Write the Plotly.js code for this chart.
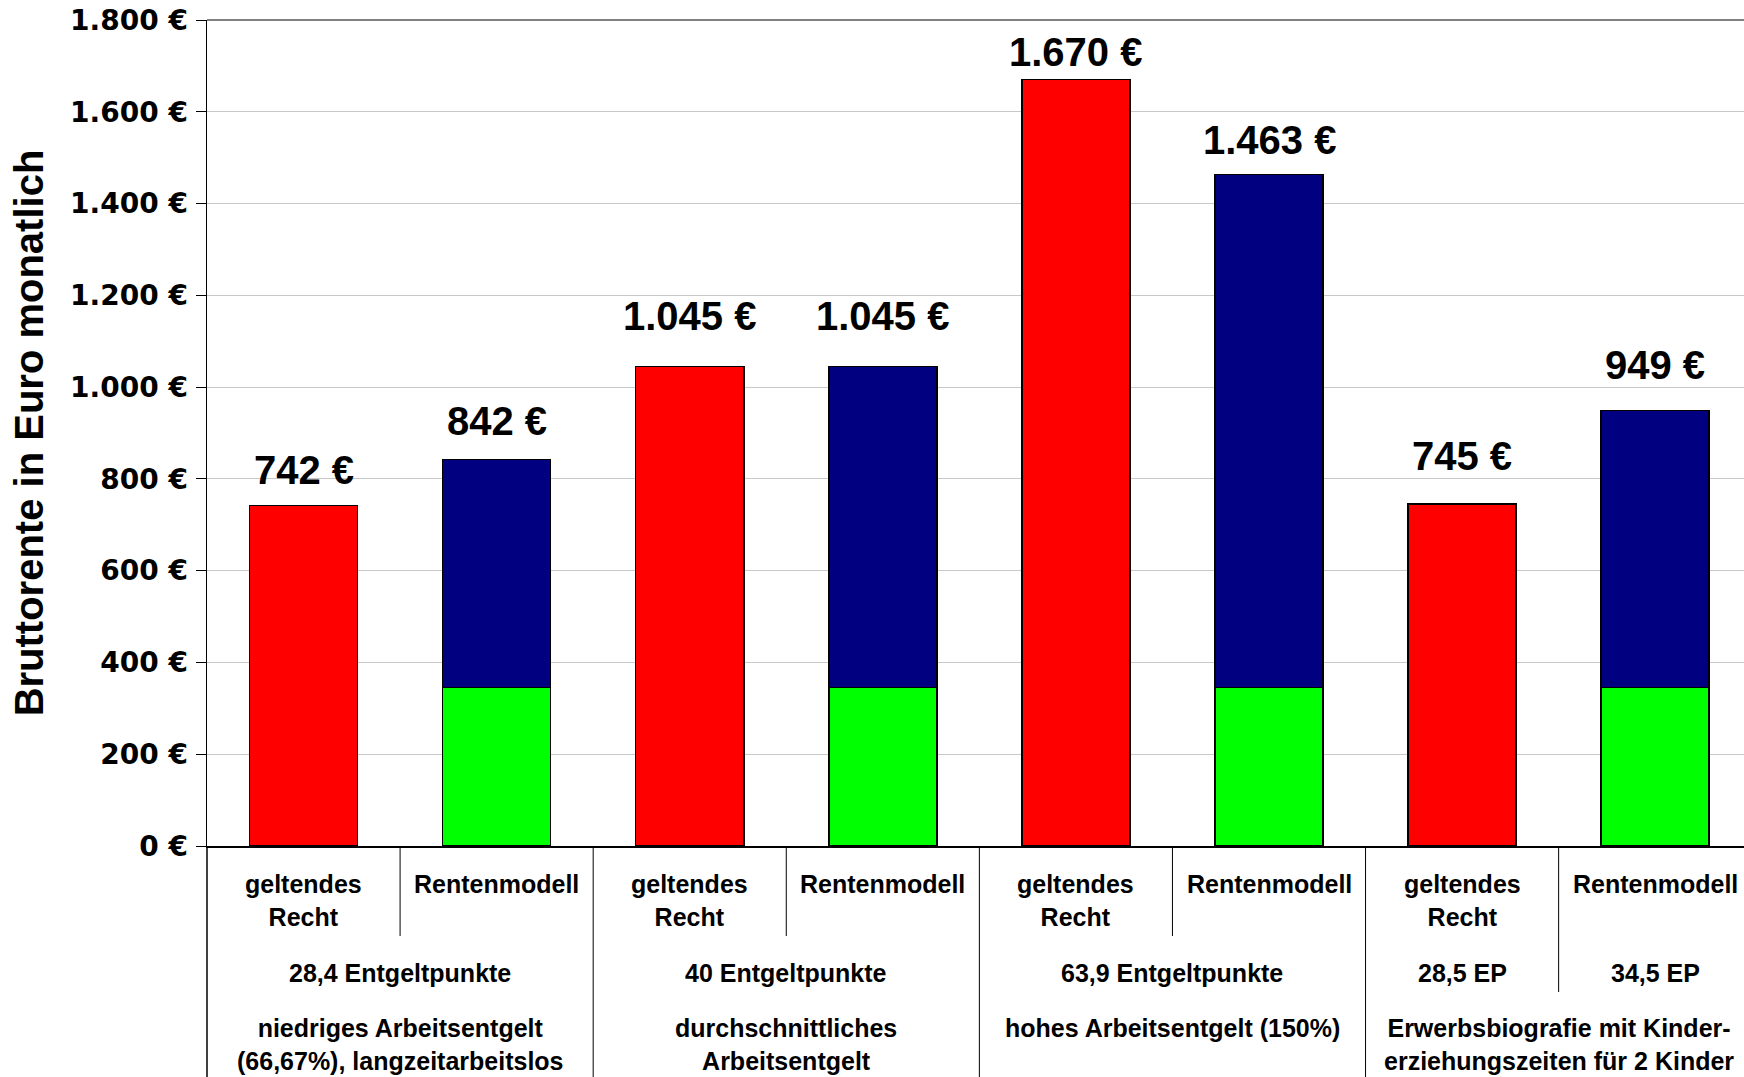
<!DOCTYPE html>
<html>
<head>
<meta charset="utf-8">
<script src="https://cdn.plot.ly/plotly-3.0.1.min.js"></script>
<style>html,body{margin:0;padding:0;background:#fff;}#chart{width:1744px;height:1077px;}</style>
</head>
<body>
<div id="chart"></div>
<script>
// ---- data ----
const subLabels = ['geltendes<br>Recht','Rentenmodell','geltendes<br>Recht','Rentenmodell','geltendes<br>Recht','Rentenmodell','geltendes<br>Recht','Rentenmodell'];
const epLabels = ['28,4 Entgeltpunkte','28,4 Entgeltpunkte','40 Entgeltpunkte','40 Entgeltpunkte','63,9 Entgeltpunkte','63,9 Entgeltpunkte','28,5 EP','34,5 EP'];
const groupLabels = ['niedriges Arbeitsentgelt<br>(66,67%), langzeitarbeitslos','durchschnittliches<br>Arbeitsentgelt','hohes Arbeitsentgelt (150%)','Erwerbsbiografie mit Kinder-<br>erziehungszeiten für 2 Kinder'];
const geltendesRecht = [742, null, 1045, null, 1670, null, 745, null];
const sockel = [null, 345, null, 345, null, 345, null, 345];
const aufbau = [null, 497, null, 700, null, 1118, null, 604];
const yAxisTitle = 'Bruttorente in Euro monatlich';

// ---- layout / style ----
const W = 1744, H = 1077, plotTop = 20, plotBottom = 846;
const labelGapPx = [22, 25, 36, 36, 14, 21, 34, 32]; // distance of value label above its bar (px)
const pp = p => (plotBottom - p) / (plotBottom - plotTop); // pixel -> paper y
const idx = subLabels.map((_, i) => i);
const sans = "'Liberation Sans', Arial, sans-serif";
function fmt(v){ return String(Math.round(v)).replace(/\B(?=(\d{3})+(?!\d))/g, '.'); }

const lineStyle = {color:'#000', width:1.5};
const traces = [
  {type:'bar', x:idx, y:geltendesRecht, width:0.56, marker:{color:'#ff0000', line:lineStyle}, hoverinfo:'y', name:'geltendes Recht'},
  {type:'bar', x:idx, y:sockel, width:0.56, marker:{color:'#00ff00', line:lineStyle}, hoverinfo:'y', name:'Sockel'},
  {type:'bar', x:idx, y:aufbau, width:0.56, marker:{color:'#000080', line:lineStyle}, hoverinfo:'y', name:'Aufbau'}
];

const annotations = [];
const shapes = [];
// value labels
idx.forEach(i => {
  const total = (geltendesRecht[i] || 0) + (sockel[i] || 0) + (aufbau[i] || 0);
  annotations.push({x:i, y:total, xref:'x', yref:'y', yanchor:'bottom', yshift:labelGapPx[i] - 10, showarrow:false,
    text: fmt(total) + ' €', font:{family:sans, size:40, color:'#000', weight:'bold'}});
});
// row 1 labels
const lblFont = {family:sans, size:25, color:'#000', weight:'bold'};
idx.forEach(i => {
  annotations.push({x:i, y:pp(868), xref:'x', yref:'paper', yanchor:'top', showarrow:false, text:subLabels[i], font:lblFont});
});
// row 2 labels (merge equal neighbours)
let s = 0;
for (let i = 1; i <= epLabels.length; i++) {
  if (i === epLabels.length || epLabels[i] !== epLabels[s]) {
    annotations.push({x:(s + i - 1) / 2, y:pp(973), xref:'x', yref:'paper', yanchor:'middle', showarrow:false, text:epLabels[s], font:lblFont});
    s = i;
  }
}
// row 3 labels
groupLabels.forEach((g, k) => {
  annotations.push({x:2*k + 0.5, y:pp(1012), xref:'x', yref:'paper', yanchor:'top', showarrow:false, text:g, font:lblFont});
});
// separators
const sepLine = {color:'#000', width:1};
groupLabels.forEach((g, k) => {
  const a = 2*k, b = 2*k + 1;
  const long = epLabels[a] !== epLabels[b];
  shapes.push({type:'line', xref:'x', yref:'paper', x0:a + 0.5, x1:a + 0.5, y0:0, y1:pp(long ? 992 : 936), line:sepLine});
  if (k < groupLabels.length - 1) {
    shapes.push({type:'line', xref:'x', yref:'paper', x0:b + 0.5, x1:b + 0.5, y0:0, y1:pp(H), line:sepLine});
  }
});
shapes.push({type:'line', xref:'paper', yref:'paper', x0:0, x1:0, y0:0, y1:pp(H), line:{color:'#000', width:1.5}});
shapes.push({type:'line', xref:'paper', yref:'paper', x0:0, x1:1, y0:1, y1:1, line:{color:'#808080', width:2}});

const layout = {
  width:W, height:H,
  margin:{l:207, r:0, t:plotTop, b:H - plotBottom, pad:0},
  paper_bgcolor:'#fff', plot_bgcolor:'#fff',
  barmode:'stack', showlegend:false,
  separators:',.',
  xaxis:{range:[-0.5, 7.46], showticklabels:false, ticks:'', showgrid:false, zeroline:false, showline:true, linecolor:'#000', linewidth:1.5, fixedrange:true},
  yaxis:{range:[0, 1800], dtick:200, tick0:0, tickformat:',d', ticksuffix:' €', ticks:'outside', ticklen:10, tickcolor:'#000', tickwidth:1,
    ticklabelstandoff:2,
    showgrid:true, gridcolor:'#c8c8c8', gridwidth:1, zeroline:false, showline:true, linecolor:'#000', linewidth:1.5,
    tickfont:{family:"'DejaVu Sans', sans-serif", size:28, color:'#000', weight:'bold'},
    title:{text:yAxisTitle, standoff:14, font:{family:sans, size:40, color:'#000', weight:'bold'}}, fixedrange:true},
  annotations:annotations,
  shapes:shapes
};
Plotly.newPlot('chart', traces, layout, {displayModeBar:false, staticPlot:true});
</script>
</body>
</html>
